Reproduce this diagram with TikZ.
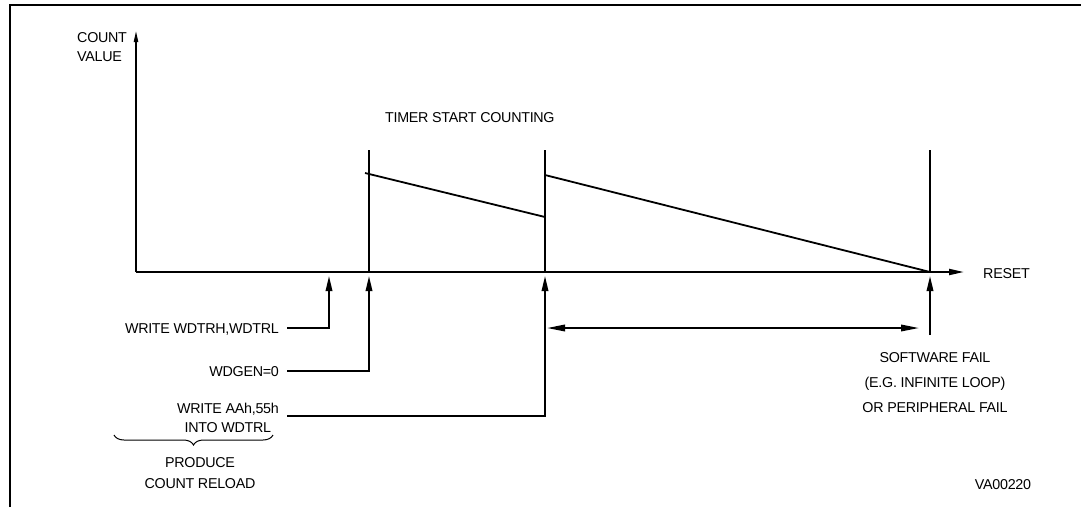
\documentclass[tikz,border=0pt]{standalone}
\usepackage{fontspec}
\setmainfont{Liberation Sans}[LetterSpace=-2]
\usetikzlibrary{arrows.meta,decorations.pathreplacing}
\begin{document}
\begin{tikzpicture}[x=1pt,y=-1pt,
  lbl/.style={font=\fontsize{14.3}{18}\selectfont, inner sep=0pt},
  one/.style={text height=10pt, text depth=0pt},
  frame/.style={line width=2.2pt},
  axis/.style={line width=2pt},
  ln/.style={line width=1.8pt},
  tipup/.style={-{Triangle[length=15pt,width=6.5pt]}},
  dbl/.style={{Triangle[length=18pt,width=6.5pt]}-{Triangle[length=18pt,width=6.5pt]}},
  ]
\useasboundingbox (0,0) rectangle (1081,507);

% frame
\draw[frame] (10,507) -- (10,5) -- (1081,5);

% axes
\coordinate (O) at (136,272);
\coordinate (Ytop) at (136,30);
\coordinate (Xend) at (964,272);
\draw[axis, -{Triangle[length=12pt,width=4pt]}] (O) -- (Ytop);
\draw[axis, -{Triangle[length=15pt,width=6pt]}] (O) -- (Xend);

% vertical marker lines
\coordinate (v1b) at (369,272); \coordinate (v1t) at (369,150);
\coordinate (v2b) at (545,272); \coordinate (v2t) at (545,150);
\coordinate (v3b) at (930,272); \coordinate (v3t) at (930,150);
\draw[ln] (v1b) -- (v1t);
\draw[ln] (v2b) -- (v2t);
\draw[ln] (v3b) -- (v3t);

% sawtooth count
\coordinate (s1) at (365,173);
\coordinate (s2) at (545,217);
\coordinate (s3) at (545,175);
\draw[ln, line join=miter] (s1) -- (s2) -- (s3) -- (v3b);

% labels
\node[lbl, anchor=west, align=left, font=\fontsize{14.3}{18.5}\selectfont] (cv) at (77,47) {COUNT\\VALUE};
\node[lbl, one, anchor=west] (tsc) at (385,117) {TIMER START COUNTING};
\node[lbl, one, anchor=west] (rst) at (983,273) {RESET};
\node[lbl, one, anchor=east, inner xsep=8pt] (w1) at (287,328) {WRITE WDTRH,WDTRL};
\node[lbl, one, anchor=east, inner xsep=8pt] (w2) at (287,371) {WDGEN=0};
\node[lbl, anchor=east, inner xsep=8pt, align=center, font=\fontsize{14.3}{19.5}\selectfont] (w3) at (287,418) {WRITE AAh,55h\\INTO WDTRL};
\node[lbl, align=center, font=\fontsize{14.3}{20.5}\selectfont] (pr) at (200,473) {PRODUCE\\COUNT RELOAD};
\node[lbl, align=center, font=\fontsize{14.3}{25}\selectfont] (sf) at (935,383) {SOFTWARE FAIL\\(E.G. INFINITE LOOP)\\OR PERIPHERAL FAIL};
\node[lbl, one] (va) at (1003,484) {VA00220};

% arrow targets
\coordinate (u1) at (329,276);
\coordinate (u2) at (369,276);
\coordinate (u3) at (545,276);
\coordinate (u4) at (930,276);
\coordinate (u4s) at (930,335);
\coordinate (w3e) at (287,416);

\draw[ln, tipup] (w1.east) -| (u1);
\draw[ln, tipup] (w2.east) -| (u2);
\draw[ln, tipup] (w3e) -| (u3);
\draw[ln, tipup] (u4s) -- (u4);

% interval double arrow
\coordinate (d1) at (547,328);
\coordinate (d2) at (919,328);
\draw[ln, dbl] (d1) -- (d2);

% brace
\coordinate (b1) at (114,435);
\coordinate (b2) at (273,435);
\draw[line width=1pt, decorate, decoration={brace, mirror, amplitude=10pt}] (b1) -- (b2);
\end{tikzpicture}
\end{document}
